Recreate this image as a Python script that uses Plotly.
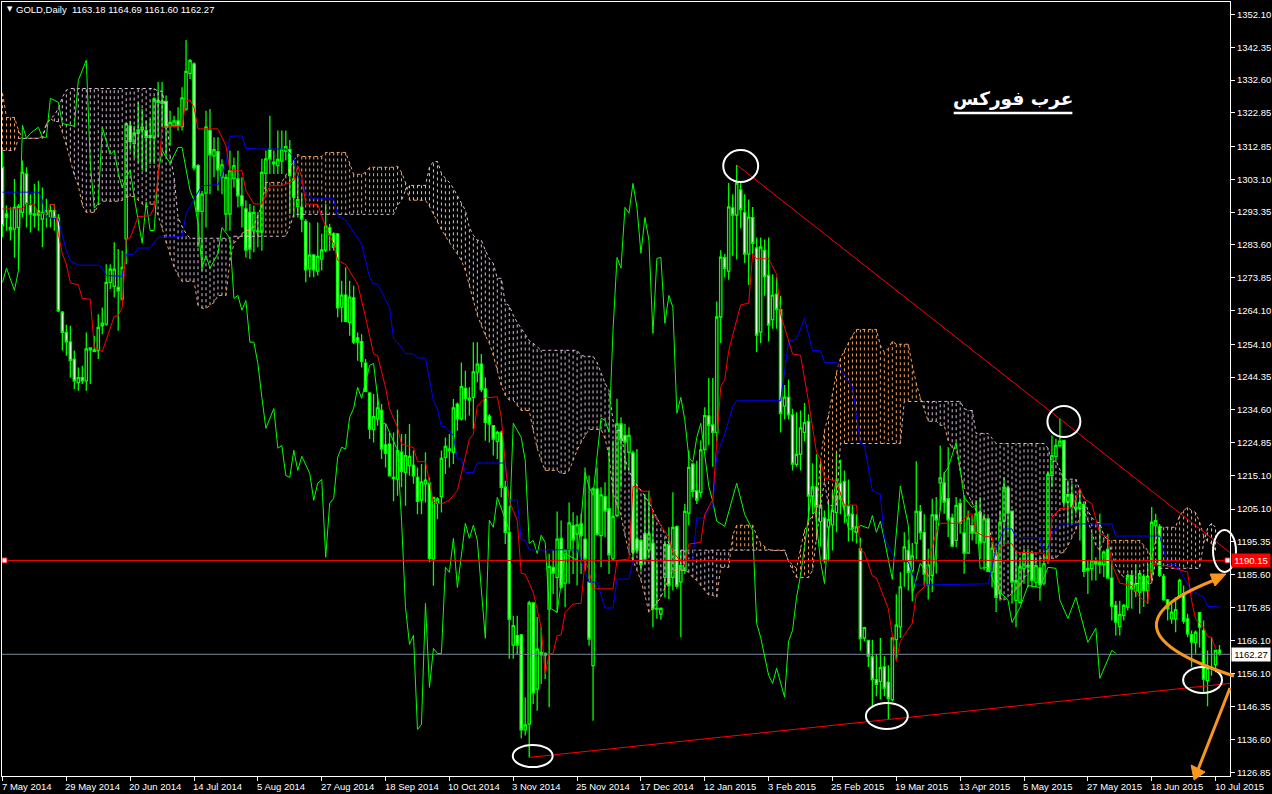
import plotly.graph_objects as go

W, H = 1272, 794
L, R, T, B = 1, 40, 2, 18

highs = [
1311.6,1295.3,1294.8,1303.2,1295.8,1308.7,1306.7,1298.7,1301.7,1302.7,
1300.7,1297.3,1295.8,1295.8,1292.8,1264,1259.9,1259.6,1252.2,1247.2,
1247.7,1257.6,1253.2,1256.6,1263,1265,1277.9,1277.9,1284.4,1282.4,
1281.9,1320,1320.5,1319,1326,1324,1320.5,1321,1327.5,1332,
1332,1328,1323.5,1322,1324.5,1330.5,1344.5,1338.9,1337.9,1307.7,
1299.7,1323.5,1324,1315.6,1315.6,1309.1,1304.7,1311.6,1309.6,1311.6,
1303.7,1296.8,1295.8,1295.3,1293.3,1309.2,1311.7,1322,1311.7,1317.6,
1317.6,1317.6,1314.8,1308.7,1305.2,1298.8,1291.3,1290.3,1280.9,1290.3,
1286.9,1295.8,1289.9,1287.4,1287.1,1273,1277,1273,1271.5,1257.6,
1257.1,1249.7,1239.8,1239.3,1239.3,1236.3,1230.4,1227.9,1227.9,1234.6,
1227.4,1227.4,1230.4,1222.5,1217.5,1218.5,1222,1214.5,1208.6,1208.6,
1222.5,1226.4,1227.4,1237.8,1236.8,1248.7,1246.2,1241.3,1254.7,1254.7,
1251.2,1244.3,1233.4,1229.9,1228.4,1228.4,1213.5,1206,1173.4,1173.4,
1168,1149.2,1177.9,1177.4,1173,1170,1162.5,1191.8,1192.8,1204.4,
1201.7,1193,1207.1,1204.2,1203.2,1203.7,1217.5,1215.1,1211.6,1217.5,
1211.6,1213.1,1223.5,1225.5,1237.9,1232.4,1230.4,1229.4,1222.5,1223,
1196.2,1209.6,1210.6,1203.7,1189.8,1175.9,1195.7,1199.7,1210.1,1200.2,
1192.8,1206.6,1222.5,1218.7,1219.5,1225.5,1235.4,1244.1,1244.1,1266.8,
1282,1280.9,1302,1298.7,1307.4,1302,1298.7,1297.1,1294.9,1285.8,
1285.8,1285.2,1285.8,1274.9,1273.9,1268.5,1242,1243.6,1234.9,1233.9,
1234.4,1236.6,1233.3,1218.7,1221.4,1218.7,1204.7,1207.9,1210.1,1222,
1219.8,1216.6,1213.9,1206.3,1203.6,1196.6,1170.1,1166.3,1166.3,1162,
1166.8,1161.4,1158.7,1166.8,1179.8,1186.3,1198.2,1196,1195,1219.3,
1206.3,1203.6,1193.3,1208.2,1208.7,1224,1216.1,1223.5,1203.7,1208.7,
1208.2,1209.2,1204.7,1203.2,1207.7,1208.7,1203.7,1202.7,1195.3,1193.8,
1204.7,1214.6,1212.1,1204.7,1192.8,1190.8,1193.3,1193.3,1192.8,1190.8,
1190.8,1191.8,1216.1,1227,1226,1232,1225.7,1213.6,1212.6,1209.2,
1211.1,1206.7,1189.8,1197.8,1190.8,1203.7,1192.8,1197.8,1189.8,1177.9,
1177.9,1176.9,1185.9,1186.9,1188.8,1186.9,1185.9,1188.8,1205.7,1203.7,
1200.7,1185.9,1178.4,1177,1178.9,1184.4,1182.4,1174,1169,1169,
1174.5,1172,1163.1,1167,1163.1,1164.69]

body_tops = [
1306.7,1292.8,1288.8,1294.8,1295.1,1305.2,1304.7,1295.3,1292.8,1293.8,
1293.3,1293.8,1293.8,1293.8,1291.6,1263.6,1257.6,1254.8,1249.7,1244.2,
1244.2,1252.7,1253,1252.4,1259.1,1260.4,1272.5,1276.4,1276.4,1271,
1276.9,1319.6,1319,1316.9,1317.8,1318.6,1317.6,1316.1,1327,1326.5,
1326.3,1326.3,1320,1320.5,1320.5,1327.3,1335.2,1338.4,1337.4,1307.2,
1298.7,1318.6,1317.6,1311.9,1311.3,1307.4,1303.7,1305.7,1307.2,1303.2,
1298.2,1294.3,1293.3,1293.3,1287.8,1305.2,1309.2,1312.1,1308.2,1309,
1312.1,1312.8,1311.9,1303.2,1297.1,1294.8,1290.6,1280.6,1280.6,1280.2,
1282.1,1289.2,1288.7,1286.9,1286.9,1268.7,1268.7,1268.1,1267.9,1256,
1254.9,1248.5,1239.6,1232.6,1235.2,1234.4,1224.2,1224.4,1214.5,1222.5,
1222,1221,1220.8,1218.2,1214.5,1213.2,1213.7,1212.8,1208.6,1208.1,
1220.2,1223.7,1223,1235.2,1236.3,1241.5,1241,1238.1,1245.9,1248.2,
1248.2,1240.8,1232.7,1229.9,1227.9,1227.9,1211.6,1198.2,1170.5,1167.5,
1167.7,1141,1177.2,1177.2,1163.5,1162.5,1162.2,1188.1,1187.8,1196.2,
1196.4,1193,1201,1200.2,1200.4,1200.7,1196.2,1183.4,1211.1,1211.1,
1209.3,1208.8,1205.2,1202.9,1230.4,1230.4,1227,1227,1221.8,1196.2,
1195.7,1197.7,1197.7,1195,1175.6,1175.6,1194.5,1194.5,1199.7,1199.9,
1188.3,1204.4,1217.5,1218.5,1210.6,1222.7,1232.9,1232.8,1230.1,1262.2,
1280,1279.8,1294.9,1294.6,1302,1300,1293.3,1291.9,1291.7,1282.7,
1283,1282,1274.6,1268.7,1269,1264.4,1238.4,1238.4,1233.1,1221.4,
1229.2,1230.8,1231.2,1211.7,1211.7,1206.3,1202.5,1202,1204.7,1209,
1212.8,1213.3,1206,1203.6,1199.8,1193.3,1169.9,1166.1,1161.2,1154.4,
1158,1158.2,1153.7,1166.8,1170.6,1182,1193.9,1192.8,1191.2,1204.4,
1204.4,1198.2,1188.5,1203.4,1203.4,1214.4,1212.9,1208.2,1202.5,1206.2,
1206.7,1198,1202.4,1200.2,1203.7,1204.2,1202.2,1202.2,1193.5,1192.1,
1201.2,1211.6,1211.4,1204.5,1183.9,1187.9,1191.8,1188.3,1191.8,1188.3,
1187.6,1188.8,1215.4,1221,1224,1225.3,1225.5,1209.4,1209.5,1205.7,
1207,1206.4,1187.4,1189.8,1189.5,1189.3,1192.3,1193.1,1184.6,1176.5,
1173.7,1176.5,1185.4,1185.4,1182.9,1185.9,1185.1,1185.1,1201.2,1201.7,
1199.9,1185.1,1178.1,1174.5,1175.2,1183.9,1179.9,1172.5,1167.8,1168.5,
1174.3,1169,1157.8,1158.1,1163.1,1163.18]

body_bottoms = [
1289.3,1291.8,1288.1,1288.3,1288.8,1293.3,1295.8,1292.8,1292.5,1292.5,
1291.3,1292.8,1291.8,1291.8,1264,1257.6,1254.8,1249.2,1243.2,1242.7,
1243.2,1243.2,1252.4,1252,1252.2,1259.6,1260.1,1272.5,1271.3,1270,
1267.5,1285.4,1314.4,1313.8,1316.8,1317.8,1315.6,1315.6,1315.4,1326,
1325.7,1318.6,1318.8,1319,1319,1318.8,1324,1334.6,1306.5,1293.6,
1293.6,1299,1310.4,1310.1,1305.9,1303.7,1292.8,1292.8,1303.4,1298.2,
1295.3,1282.1,1282.4,1287.8,1287.5,1287.4,1304.9,1309.2,1307.7,1307.2,
1308.5,1311.5,1304.2,1297.8,1295.1,1291.3,1276.2,1276.5,1276.2,1275.8,
1279.4,1282.1,1286.7,1282.9,1264.9,1265.1,1260.9,1260.6,1254.7,1254.7,
1249,1240.1,1228.9,1228.7,1231.9,1223,1221.7,1215,1214.2,1214,
1216.3,1216,1218,1215,1207.4,1207.8,1212.6,1190.5,1190.3,1206.8,
1208.8,1220.5,1222.5,1222,1231.9,1231.9,1238,1237.5,1238.3,1245.8,
1240.6,1230.9,1230.4,1225.9,1225.2,1211.6,1198.2,1172.3,1164.7,1164.7,
1139.5,1139.5,1141.2,1150.5,1151.6,1161.8,1161.7,1175.4,1186.1,1184.8,
1181.9,1183.1,1192.8,1196,1197.7,1197.2,1190.3,1166.5,1158.6,1197.5,
1197.2,1204.5,1191.5,1190.3,1203.2,1225.7,1225,1222,1192.3,1193,
1188.6,1190.3,1193,1175.4,1175.4,1173.9,1184.8,1182.4,1184.8,1182.2,
1183.4,1186.8,1203.9,1210.4,1207.8,1210.1,1222.8,1229.9,1227.9,1227.9,
1262.2,1276.6,1275.8,1292.5,1292.5,1294.1,1280.9,1280.9,1284.1,1256.8,
1257.7,1274.1,1259.8,1261.4,1264.4,1233.5,1235.7,1233.1,1218.5,1218.4,
1221.4,1227.9,1209,1209,1205.8,1201.4,1189.8,1199.8,1200.4,1204.1,
1208.1,1206,1203.1,1199.3,1198.2,1166.6,1166.8,1161.4,1154.4,1153,
1153.9,1151.9,1148.8,1148.5,1166.3,1170.1,1189.5,1186.3,1186.8,1195,
1198.2,1185.8,1182.5,1185.4,1201.9,1212.9,1207.2,1201.9,1194.1,1195.8,
1200.9,1192,1192,1198,1198,1195.1,1195.3,1186.6,1186.4,1178.9,
1179.9,1201.5,1203.9,1183.4,1178,1177.4,1187.4,1187.9,1183.9,1183.4,
1182.6,1183.1,1189.8,1215.1,1220.8,1224,1207.2,1207.2,1205.7,1205.2,
1205.2,1186.6,1186.9,1187.4,1188.8,1188.6,1188.6,1184.6,1176.3,1171.5,
1170.2,1173.5,1176,1181.4,1180.7,1180.4,1180.9,1180.9,1185.9,1200.2,
1185.4,1178.1,1175.5,1172.5,1172.5,1179.4,1171.8,1168,1165.6,1165.4,
1170,1154.6,1154.1,1157.8,1158.9,1162.27]

lows = [
1285.9,1287.8,1284.9,1279.9,1276.4,1291.8,1288.8,1287.3,1288.8,1287.8,
1282.9,1288.8,1288.8,1287.8,1263.6,1252.2,1250.7,1244.2,1240.8,1240.3,
1242.3,1240.3,1242.3,1251.7,1249.7,1257.1,1259.6,1270.5,1268,1258.1,
1267,1277.9,1311.6,1309.6,1308.2,1305.7,1305.2,1307.7,1307.7,1315.6,
1318.6,1310.1,1313.1,1318.6,1317.6,1317.6,1323.5,1332.9,1305.7,1282.9,
1276,1288.8,1298.7,1303.7,1299.7,1298.7,1287.8,1287.8,1300.7,1294.8,
1288.8,1279.9,1279.4,1281.4,1282.9,1281.9,1298.8,1304.7,1304.7,1304.7,
1304.7,1308.7,1292.8,1291.8,1291.8,1287.4,1272.5,1274,1274,1274.5,
1276,1281.4,1281.9,1281.9,1262.1,1260.6,1260.6,1256.6,1254.2,1249.2,
1247.2,1239.8,1225.9,1224.9,1229.9,1220,1217.5,1214.8,1207.4,1209.1,
1211.6,1206.1,1215,1212.6,1203.6,1203.6,1207.1,1189.3,1182.3,1202.1,
1204.1,1215.5,1217.5,1218.5,1228.4,1231.4,1231.4,1232.9,1228.9,1242.8,
1239.8,1225.4,1224.9,1221,1220,1208.6,1194.7,1160.6,1160.6,1162,
1137,1137.8,1131.3,1147.2,1145.2,1153.1,1154.6,1146.2,1179.9,1174.4,
1181.4,1175.9,1182.9,1185.8,1182.4,1185.8,1186.8,1164.5,1142.2,1197.2,
1187.8,1196.7,1185.8,1189.8,1202.7,1211.6,1216.6,1216.6,1189.8,1191.8,
1186.8,1188.8,1190.8,1170,1172.5,1172.2,1178.9,1178.4,1180.9,1181.4,
1167,1185.8,1200.2,1208.6,1206.6,1208.6,1222.5,1224.1,1217.7,1225.2,
1254.4,1273.9,1273.3,1280.4,1279.3,1288.5,1278.2,1271.7,1280.9,1251.7,
1254.4,1268.5,1254.9,1258.7,1258.7,1227.9,1231.7,1231.7,1216.6,1217.7,
1216.6,1225.2,1201.4,1203.6,1197.1,1193.9,1189,1189.5,1192.8,1198.2,
1203.6,1200.9,1195.5,1195.5,1194.9,1163,1165.8,1158.2,1146.3,1149.5,
1148.5,1149.5,1142.5,1147.9,1160.4,1166.8,1182,1180.9,1177.7,1190.1,
1196,1182.5,1178.2,1180.4,1185.9,1204.7,1203.7,1196.8,1193.8,1193.8,
1197.8,1185.9,1191.8,1195.8,1194.8,1190.3,1186.9,1186.4,1181.9,1174.5,
1177.9,1194.8,1197.8,1177,1170,1177,1182.9,1181.9,1181.9,1181.9,
1177.9,1182.4,1188.8,1211.6,1219.6,1223.5,1205.7,1200.7,1200.7,1203.7,
1195.8,1184.9,1179.9,1183.9,1183.9,1185.9,1184.9,1184.4,1172,1167.5,
1167.5,1172,1175,1175.5,1178.9,1174,1176,1177,1183.9,1194.8,
1184.9,1177.9,1172,1171,1168.5,1178.9,1171,1167,1158.1,1162.1,
1164,1150.2,1146.5,1155.6,1156.6,1161.6]

# 1 = falling bar (white body), 0 = rising bar (black body)
falling = (
"1100001101" "0101111110" "1010000001" "0010001000" "1100100011"
"0010100001" "1110000100" "0011011010" "0011101011" "1110011100"
"1001100100" "0010101000" "1111011101" "1001010010" "1001011101"
"0110011011" "1101000101" "0001100110" "0101011011" "0110110110"
"0010101000" "1111010111" "0110000100" "1100101110" "1101010101"
"0011000110" "1000001011" "0100000111" "0001001000" "1110001110"
"110001"
)

tenkan_bar = [0,5,6,8,9,11,12,13,14,15,16,17,19,20,22,23,25,26,27,28,29,30,31,32,34,37,38,39,40,45,46,47,48,49,54,56,57,60,61,63,65,67,70,73,74,75,76,79,81,83,84,86,89,91,93,94,96,97,99,100,103,104,106,108,110,112,114,115,117,118,119,121,124,125,126,127,129,130,131,133,135,136,137,138,139,140,141,143,145,146,147,148,153,154,157,158,159,160,162,163,165,167,168,171,172,175,176,178,179,180,181,182,185,187,188,189,192,194,195,197,198,200,202,204,205,206,209,211,214,215,216,218,219,222,223,224,225,228,229,231,232,234,235,240,242,243,244,246,248,249,251,253,254,261,262,263,265,268,270,271,273,275,277,278,280,283,285,287,288,290,292,294,297,298,299,301,302,303,304,305]
tenkan_val = [1294.3,1294.3,1296,1295.6,1293,1292.8,1295.6,1295.6,1286.8,1280.9,1277.9,1272.3,1271.8,1267.7,1267.5,1253.2,1251.9,1255.6,1259.1,1262.4,1262.6,1265,1285.4,1285.7,1292,1292.3,1294.8,1303.7,1318.6,1318.9,1326.5,1326.7,1324.5,1318.1,1318.1,1313.1,1305.7,1305.7,1299.7,1295.8,1295.8,1301.2,1301.2,1302.7,1307.2,1303.7,1295.8,1295.6,1288.9,1283.9,1279,1277.8,1272,1262.1,1251.2,1250.7,1241.3,1234.8,1229.4,1224.4,1223.4,1219.2,1219.2,1207.1,1206.6,1207.8,1210.6,1215.8,1225.9,1227.4,1235.8,1238.1,1238.5,1232.4,1218.5,1207.6,1201.7,1186,1185.8,1180.4,1170,1156.1,1162,1162.3,1167.5,1167.7,1174.4,1176.9,1177.1,1189.8,1186.8,1181.4,1181.4,1189.8,1190.3,1211.8,1211.8,1210.4,1210.4,1203.7,1200.2,1196.7,1192.3,1188.3,1194.7,1195.2,1203.6,1207.9,1225.2,1241.4,1243.6,1252.2,1265.8,1266.3,1280.9,1279.5,1279.5,1274.9,1263,1255.5,1251.2,1250.8,1237.1,1222,1219.8,1214.4,1213.3,1206.3,1206.3,1192.8,1192.2,1185.2,1184.7,1175.5,1167.9,1159.8,1165.8,1171.2,1179.8,1182,1189.5,1198.2,1200.9,1200.9,1203.5,1203.7,1198.3,1197,1196.8,1191.3,1194.8,1194.8,1192.3,1192,1188.9,1202.7,1205.2,1205.5,1211.3,1208.2,1206.7,1197.8,1196.8,1188.8,1183.1,1182.4,1178.9,1177.2,1188.8,1188.3,1188.3,1187.4,1186.4,1177.9,1172.5,1170,1167.2,1167,1163.6,1162.6]

kijun_bar = [0,9,10,11,14,16,17,19,24,25,26,30,31,33,34,37,39,45,46,48,50,54,56,57,60,61,65,71,73,74,75,76,78,83,84,86,90,92,93,94,97,98,99,101,103,104,106,108,109,110,111,113,114,115,116,118,119,126,127,129,130,131,132,144,147,149,151,153,154,157,158,171,173,174,176,177,178,179,181,183,184,195,197,199,201,203,205,206,209,213,215,216,218,220,221,224,227,229,247,249,251,253,254,260,261,262,263,265,278,279,290,292,294,295,298,301,302,305]
kijun_val = [1299.3,1299.3,1296.8,1291.8,1291.3,1281.9,1278.9,1277.6,1277.6,1276.9,1274.5,1274.3,1280.7,1280.9,1282.7,1282.7,1285.9,1286.1,1292.8,1297.3,1301.2,1301.5,1307.7,1315.9,1316,1312.3,1312.1,1312.1,1309.7,1304.2,1302.2,1298.6,1297.3,1297.3,1292.3,1291,1283.9,1274,1272,1272,1265,1255.7,1254.7,1251.4,1251.2,1250,1250,1237.3,1234.9,1229.6,1229.6,1226.9,1220,1220,1216,1216,1218.8,1218.8,1207.8,1207.8,1195.9,1195.9,1193,1193,1183.4,1183.4,1175.7,1175.7,1184.3,1184.3,1189.8,1189.8,1190.3,1202.5,1202.5,1205.4,1205.6,1220.9,1227.4,1235.5,1237.3,1237.3,1254.9,1255.7,1261.8,1252.2,1252.2,1248.7,1248.7,1241.4,1224.7,1224.1,1210.6,1209.5,1196.6,1189.5,1189.5,1182.5,1182.9,1193.3,1199.2,1199.2,1196.6,1196.6,1192.8,1193.3,1197.8,1200.7,1200.7,1197.1,1197.1,1188.8,1188.6,1186.9,1180.9,1178.9,1176.2,1176]

chikou_bar = [0,1,3,4,5,6,7,9,10,11,12,14,15,18,19,21,22,23,24,25,27,28,29,30,31,32,33,35,36,37,38,39,40,42,44,45,47,48,49,50,51,52,54,55,57,58,59,60,61,62,63,64,65,66,68,69,70,71,72,73,74,75,77,78,79,80,81,82,83,84,85,86,87,88,89,90,92,93,94,95,96,99,100,101,102,103,104,105,106,107,108,109,110,111,112,113,114,115,116,117,118,119,120,121,122,123,124,127,128,130,131,132,133,134,135,136,137,139,140,141,144,145,146,147,148,149,150,151,152,153,154,155,156,157,158,159,160,161,162,163,164,165,166,167,168,169,170,171,172,173,174,175,177,178,179,181,184,186,188,189,190,192,193,194,196,197,198,199,200,201,203,205,206,207,209,212,214,215,217,218,219,220,221,223,225,227,228,230,233,236,237,239,241,243,244,245,247,249,252,253,255,257,260,262,264,265,267,269,272,274,275,278,279]
chikou_val = [1272.5,1276.7,1270.1,1276.1,1319.2,1315.3,1316.8,1318.6,1315.6,1315.6,1327.2,1326,1319.7,1318.9,1332.5,1338.5,1307.9,1294.5,1296,1318.6,1310.5,1311.7,1304.9,1300.7,1303.7,1305.8,1297.8,1284.1,1296.3,1287.9,1287.9,1304.9,1311.7,1307.9,1312.6,1312.6,1299.8,1296.9,1290,1276.9,1280.5,1276.7,1281.1,1288.8,1285.6,1267.7,1268.6,1264.2,1267.1,1254.7,1254.7,1248.4,1238.3,1229.1,1235,1223.2,1224,1215.1,1214.5,1222.6,1216.6,1220.8,1215.7,1207.7,1212.8,1213.9,1190.8,1206.8,1208.3,1220.5,1223.5,1222.9,1232.4,1235,1241.3,1238,1247.8,1248.4,1238.3,1230.6,1230.6,1222.6,1201.8,1175.9,1164.9,1167.6,1139.6,1141.1,1177.1,1152.1,1163.7,1162.2,1162.2,1187.8,1186.3,1196.4,1181.8,1191.9,1200.9,1196.4,1200.3,1195.8,1181.8,1166.7,1201.8,1199.7,1208.6,1198.8,1230.6,1226.4,1219.6,1194.9,1195.8,1191.9,1197.3,1195.2,1175.9,1174.4,1183,1191.9,1189.9,1201.8,1216,1211.6,1209.2,1220.5,1232.1,1231.5,1227.9,1258.2,1279.9,1276.7,1294.8,1293,1301.9,1294.8,1281.1,1291.8,1285,1257.3,1279.6,1279.9,1260.3,1268.6,1265.1,1233.6,1238.3,1231.5,1220.5,1219,1226.4,1230.6,1211.9,1207.4,1201.5,1200,1212.8,1203.5,1198.8,1171.1,1167,1155.7,1153.3,1157.8,1149.2,1165.8,1169.1,1178.9,1185.4,1194,1212.2,1189.6,1183,1198.2,1214.5,1199.4,1198.2,1200.3,1199.4,1203.2,1198.2,1201.5,1196.1,1184.2,1211.9,1200.3,1179.8,1189,1183.6,1215.7,1217.5,1224.9,1208.6,1205.6,1206.2,1187.5,1187.8,1181.8,1178,1171.4,1175.9,1182.4,1181.8,1187.8,1187.5,1178,1172.6,1178.9,1165.5,1169.7,1154.8,1163.1,1162.27]

# cloud: value and number of consecutive bars holding it
span_a_val = [1328.7,1321.5,1317.7,1315.3,1315.9,1319.7,1321.2,1320.3,1317.1,1313.2,1308.7,1304.3,1301.3,1295.4,1293.3,1295.4,1296.6,1296.9,1297.8,1298,1296.9,1295.7,1294.8,1295.7,1292.4,1288.5,1284.1,1280.5,1277,1274.6,1272.8,1265.7,1264.8,1265.7,1266.5,1268.6,1279,1284.1,1285.3,1287,1287.9,1289.4,1292.4,1295.4,1302.2,1304.3,1306.7,1308.7,1310.5,1309.9,1311.1,1307.9,1304.6,1305.2,1306.7,1307,1305.2,1302.2,1296.9,1295.1,1292.7,1290.3,1288.2,1286.2,1284.4,1282.9,1281.1,1279,1276,1271.3,1267.1,1262.7,1259.7,1256.7,1254.4,1250.8,1246.3,1241.9,1238.9,1237.5,1235.9,1234.4,1228.5,1223.2,1219.6,1216.6,1215.7,1216.6,1219.6,1222.6,1224.9,1227,1228.8,1226.1,1221,1209.8,1206.2,1203.2,1197.3,1192.2,1189.9,1186.9,1183.9,1179.5,1174.4,1175.6,1177.1,1178.9,1181.8,1184.5,1186.9,1186.3,1184.8,1183.9,1182.4,1180.9,1179.5,1178.9,1187.8,1197.3,1200.3,1197.3,1194.9,1194,1193.1,1192.8,1189.6,1188.4,1187.5,1193.4,1198.8,1201.2,1203.2,1205.3,1219.6,1228.5,1233,1239.5,1245.7,1249.9,1252.3,1254.7,1256.7,1258.5,1253.8,1251.7,1252.9,1255,1254.1,1247.8,1242.5,1238.3,1235,1231.2,1230,1225.5,1223.2,1216.6,1211.6,1209.2,1206.8,1204.7,1203.8,1202.3,1200.9,1195.8,1186.9,1178.6,1178,1178.9,1180.1,1181.2,1182.4,1184.5,1186.3,1188.1,1189.6,1190.5,1192,1192.2,1194.3,1196.7,1199,1203.2,1204.7,1201.8,1198.2,1194.3,1192.8,1195.8,1194.3,1192.8,1190.8,1195.8,1199.7,1203.2,1204.7,1205.6,1204.7,1204.1,1201.2,1197.3,1195.5,1194.9,1192.8,1191.3]
span_a_len = [1,3,1,5,1,1,1,2,1,1,1,1,1,1,3,1,5,1,1,2,1,1,1,2,1,1,1,1,1,1,4,1,2,1,1,3,1,1,1,1,2,1,1,1,5,1,1,1,1,6,6,1,3,1,7,1,1,1,5,1,1,1,1,1,1,1,1,1,1,1,1,1,1,1,1,1,1,1,1,2,1,3,1,1,1,4,2,1,1,1,1,1,4,1,1,1,1,1,1,1,1,1,1,1,1,1,1,1,1,1,4,1,1,1,1,1,2,1,3,1,5,1,1,1,1,4,1,1,1,1,1,1,1,1,1,1,1,1,1,1,1,1,1,6,1,1,1,1,4,1,1,1,1,3,2,1,2,1,1,1,1,1,1,1,1,1,1,1,1,1,1,1,1,1,1,1,1,5,1,1,1,1,1,1,1,1,1,1,1,10,1,1,1,1,5,1,1,1,1,1,1,1,1,1,1]

span_b_val = [1311.7,1315.3,1319.2,1321.2,1322.1,1324.2,1327.5,1329.6,1330.1,1329.3,1323.6,1310.2,1303.7,1291.8,1289.1,1287,1285.6,1286.2,1289.1,1292.7,1295.4,1296.9,1299.8,1301.3,1306.7,1308.4,1304.9,1303.4,1302.2,1300.4,1298.3,1296,1293.9,1288.8,1286.5,1285,1282,1279.6,1278.1,1273.7,1266.2,1265.6,1262.7,1260.6,1258.8,1256.7,1255.2,1254.4,1253.2,1252.3,1250.8,1250.5,1248.7,1245.4,1242.5,1240.4,1231.5,1228.5,1220.2,1216.6,1214.2,1212.2,1210.7,1208.9,1207.1,1204.7,1202.6,1200.3,1197.6,1194.9,1192.9,1189.6,1186.9,1184.8,1186.9,1195.8,1206.2,1213.3,1206.2,1224.6,1237.1,1235,1234.4,1227.6,1226.1,1224.6,1223.2,1219,1219.6,1216.6,1214,1210.7,1208.6,1204.7,1202.6,1201.4,1200.9,1197.3,1195.8,1192.2,1188.4,1186,1184.8,1183.9,1183,1189.9,1187.5,1194.9,1199.4,1200.9,1199.7,1197.9]
span_b_len = [4,7,1,1,1,1,1,1,22,2,1,1,1,1,1,1,11,14,1,26,1,1,1,5,1,2,1,1,1,1,1,1,1,1,1,2,1,1,1,2,1,1,1,1,1,1,1,1,1,10,1,3,1,1,1,1,1,2,1,1,1,1,1,1,1,1,1,1,1,1,29,1,1,4,1,1,1,1,3,16,15,1,2,4,1,13,1,1,1,1,4,1,1,1,1,1,1,1,1,1,1,1,1,1,6,1,11,1,1,1,1,1]

y_ticks = [1352.10,1342.35,1332.60,1322.85,1312.85,1303.10,1293.35,1283.60,1273.85,1264.10,1254.10,1244.35,1234.60,1224.85,1215.10,1205.10,1195.35,1185.60,1175.85,1166.10,1156.10,1146.35,1136.60,1126.85]
x_labels = ["7 May 2014","29 May 2014","20 Jun 2014","14 Jul 2014","5 Aug 2014","27 Aug 2014","18 Sep 2014","10 Oct 2014","3 Nov 2014","25 Nov 2014","17 Dec 2014","12 Jan 2015","3 Feb 2015","25 Feb 2015","19 Mar 2015","13 Apr 2015","5 May 2015","27 May 2015","18 Jun 2015","10 Jul 2015"]
x_label_bars = [0,16,32,48,64,80,96,112,128,144,160,176,192,208,224,240,256,272,288,304]

alert_price = 1190.15
alert_level = 1189.85
last_price = 1162.27
last_level = 1161.95
down_trend_bars, down_trend_vals = [184, 307.6], [1307.4, 1192.2]
up_trend_bars, up_trend_vals = [132, 307.6], [1131.3, 1153.3]

def expand(vals, lens):
    out = []
    for v, n in zip(vals, lens):
        out += [v] * n
    return out

n = min(len(highs), len(lows), len(body_tops), len(body_bottoms))
bars = list(range(n))
is_fall = [falling[i] == "1" if i < len(falling) else False for i in bars]
opens = [body_tops[i] if is_fall[i] else body_bottoms[i] for i in bars]
closes = [body_bottoms[i] if is_fall[i] else body_tops[i] for i in bars]
span_a = expand(span_a_val, span_a_len)
span_b = expand(span_b_val, span_b_len)
m = min(len(span_a), len(span_b))

SAND, THISTLE, LIME = "#F4A460", "#D8BFD8", "#00FF00"
DASH = "3px,3px"
fig = go.Figure()

for col, test in ((SAND, lambda a, b: a >= b), (THISTLE, lambda a, b: a < b)):
    xs, ys = [], []
    for i in range(m):
        if test(span_a[i], span_b[i]):
            xs += [i, i, None]
            ys += [span_a[i], span_b[i], None]
    fig.add_trace(go.Scatter(x=xs, y=ys, mode="lines", line=dict(color=col, width=1, dash=DASH), hoverinfo="skip"))
fig.add_trace(go.Scatter(x=list(range(m)), y=span_a[:m], mode="lines", line=dict(color=SAND, width=1, dash=DASH), name="Senkou A"))
fig.add_trace(go.Scatter(x=list(range(m)), y=span_b[:m], mode="lines", line=dict(color=THISTLE, width=1, dash=DASH), name="Senkou B"))

fig.add_trace(go.Scatter(x=[-0.125, 307.625], y=[last_level, last_level], mode="lines", line=dict(color="#778899", width=1), name="Last"))

fig.add_trace(go.Candlestick(
    x=bars, open=opens, high=highs, low=lows, close=closes, whiskerwidth=0, name="GOLD",
    increasing=dict(line=dict(color=LIME, width=1.3), fillcolor="#000000"),
    decreasing=dict(line=dict(color=LIME, width=1.3), fillcolor="#FFFFFF")))

fig.add_trace(go.Scatter(x=chikou_bar, y=chikou_val, mode="lines", line=dict(color=LIME, width=1), name="Chikou"))
fig.add_trace(go.Scatter(x=kijun_bar, y=kijun_val, mode="lines", line=dict(color="#0000FF", width=1), name="Kijun"))
fig.add_trace(go.Scatter(x=tenkan_bar, y=tenkan_val, mode="lines", line=dict(color="#FF0000", width=1), name="Tenkan"))
fig.add_trace(go.Scatter(x=down_trend_bars, y=down_trend_vals, mode="lines", line=dict(color="#FF0000", width=1), name="Down"))
fig.add_trace(go.Scatter(x=up_trend_bars, y=up_trend_vals, mode="lines", line=dict(color="#FF0000", width=1), name="Up"))
fig.add_trace(go.Scatter(x=[-0.125, 307.625], y=[alert_level, alert_level], mode="lines", line=dict(color="#FF0000", width=1), name="Alert"))
fig.add_trace(go.Scatter(x=[0.5, 307], y=[alert_level, alert_level], mode="markers",
                         marker=dict(symbol="square", size=5, color="#FFFFFF", line=dict(color="#FF0000", width=1)), name="Handles"))

# paper fractions are relative to the plot area
def fx(px): return (px - L) / (W - L - R)
def fy(py): return 1 - (py - T) / (H - T - B)

shapes = []
for x0, y0, x1, y1 in [(724,150,759,182),(513,745,553,767),(867,703,909,729),(1049,406,1082,437),(1185,667,1224,693),(1215,530,1238,572)]:
    shapes.append(dict(type="circle", xref="paper", yref="paper", x0=fx(x0), x1=fx(x1), y0=fy(y0), y1=fy(y1),
                       line=dict(color="#FFFFFF", width=2)))
ORANGE = "#F7971D"
curve = f"M {fx(1236)} {fy(676)} C {fx(1140)} {fy(645)} {fx(1130)} {fy(612)} {fx(1222)} {fy(578)}"
shapes.append(dict(type="path", xref="paper", yref="paper", path=curve, line=dict(color=ORANGE, width=3)))
head1 = f"M {fx(1212)} {fy(574)} L {fx(1228)} {fy(574)} L {fx(1217)} {fy(586)} Z"
shapes.append(dict(type="path", xref="paper", yref="paper", path=head1, fillcolor=ORANGE, line=dict(color=ORANGE, width=1)))
shapes.append(dict(type="line", xref="paper", yref="paper", x0=fx(1232), y0=fy(688), x1=fx(1199), y1=fy(772), line=dict(color=ORANGE, width=3)))
head2 = f"M {fx(1193)} {fy(765)} L {fx(1207)} {fy(772)} L {fx(1196)} {fy(780)} Z"
shapes.append(dict(type="path", xref="paper", yref="paper", path=head2, fillcolor=ORANGE, line=dict(color=ORANGE, width=1)))
shapes.append(dict(type="line", xref="paper", yref="paper", x0=fx(955), y0=fy(113), x1=fx(1074), y1=fy(113), line=dict(color="#FFFFFF", width=2.5)))

FONT = "Liberation Sans"
ann = []
for lab, b in zip(x_labels, x_label_bars):
    ann.append(dict(x=b, y=fy(786), xref="x", yref="paper", text=lab, showarrow=False, xanchor="left", yanchor="middle",
                    xshift=-3, font=dict(family=FONT, size=9.5, color="#FFFFFF")))
ann.append(dict(x=fx(4), y=fy(9), xref="paper", yref="paper", text="▼", showarrow=False, xanchor="left", yanchor="middle",
                font=dict(family="DejaVu Sans", size=7, color="#FFFFFF")))
ann.append(dict(x=fx(13), y=fy(9), xref="paper", yref="paper", text="GOLD,Daily  1163.18 1164.69 1161.60 1162.27", showarrow=False,
                xanchor="left", yanchor="middle", font=dict(family=FONT, size=9.5, color="#FFFFFF")))
ann.append(dict(x=fx(1014), y=fy(99), xref="paper", yref="paper", text="<b>عرب فوركس</b>", showarrow=False,
                xanchor="center", yanchor="middle", font=dict(family="DejaVu Sans", size=18.5, color="#FFFFFF")))
ann.append(dict(x=fx(1233), y=alert_level, xref="paper", yref="y", text=f"{alert_price:.2f}", showarrow=False, xanchor="left", yanchor="middle",
                width=38, height=13, align="center", bgcolor="#FF0000", borderpad=0, font=dict(family=FONT, size=9.5, color="#FFFFFF")))
ann.append(dict(x=fx(1233), y=last_level, xref="paper", yref="y", text=f"{last_price:.2f}", showarrow=False, xanchor="left", yanchor="middle",
                width=38, height=13, align="center", bgcolor="#FFFFFF", borderpad=0, font=dict(family=FONT, size=9.5, color="#000000")))

fig.update_layout(
    width=W, height=H, autosize=False, showlegend=False, boxgap=0.42, boxgroupgap=0,
    paper_bgcolor="#000000", plot_bgcolor="#000000",
    margin=dict(l=L, r=R, t=T, b=B, pad=0),
    font=dict(family=FONT, size=9.5, color="#FFFFFF"),
    shapes=shapes, annotations=ann,
    xaxis=dict(range=[-0.125, 307.625], rangeslider=dict(visible=False), tickvals=x_label_bars, ticktext=[""] * len(x_label_bars),
               ticks="outside", ticklen=4, tickcolor="#FFFFFF", tickwidth=1, showgrid=False, zeroline=False,
               showline=True, linecolor="#FFFFFF", linewidth=1, mirror=True),
    yaxis=dict(range=[1125.78, 1355.81], side="right", tickvals=y_ticks, ticktext=[f"{v:.2f}" for v in y_ticks],
               ticks="outside", ticklen=4, tickcolor="#FFFFFF", tickwidth=1, showgrid=False, zeroline=False,
               showline=True, linecolor="#FFFFFF", linewidth=1, mirror=True,
               tickfont=dict(family=FONT, size=9.5, color="#FFFFFF")),
)
fig.write_html("out.html", config=dict(displayModeBar=False),
               post_script="document.body.style.margin='0';document.body.style.background='#000';")
